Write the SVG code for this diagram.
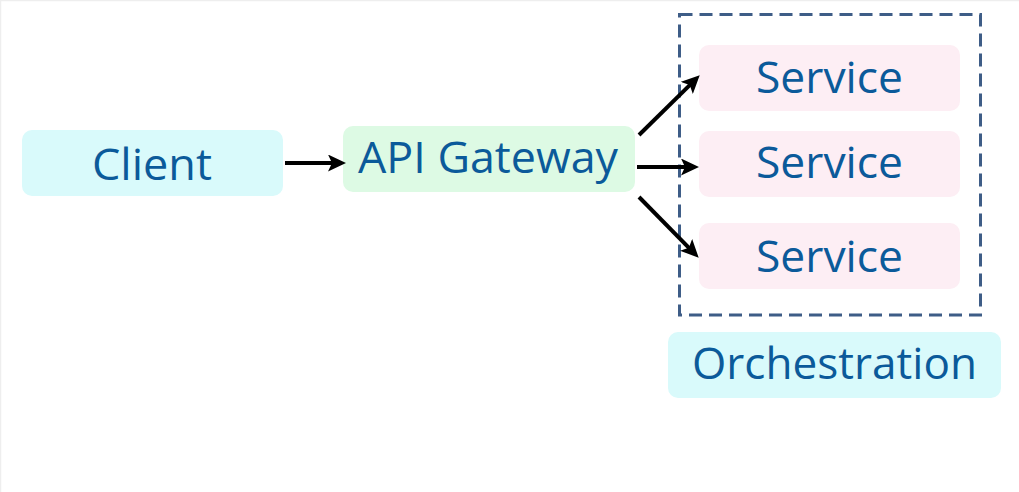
<svg xmlns="http://www.w3.org/2000/svg" width="1019" height="492" viewBox="0 0 1019 492">
  <style>
    .box { stroke: none; }
    .cyan { fill: #d9fafb; }
    .green { fill: #ddfae4; }
    .pink { fill: #fdeef4; }
    .label { font-family: "Open Sans", "DejaVu Sans", sans-serif; font-size: 43px; fill: #0b5a9a; }
    .edge { stroke: #000; stroke-width: 4; fill: none; marker-end: url(#arrow); }
    .frame { fill: none; stroke: #3e5d87; stroke-width: 3; stroke-dasharray: 13 7; }
  </style>
  <defs>
    <marker id="arrow" viewBox="0 0 18 17" refX="9" refY="8.5" markerWidth="18" markerHeight="17" markerUnits="userSpaceOnUse" orient="auto">
      <path d="M0,0 L18,8.5 L0,17 L4,8.5 z" fill="#000"/>
    </marker>
  </defs>

  <rect x="0" y="0" width="1019" height="492" fill="#fff"/>
  <path d="M0.5,492 V0.5 H1019" fill="none" stroke="#eeeeee" stroke-width="1.5"/>

  <!-- orchestration boundary -->
  <rect class="frame" x="679.5" y="14.5" width="301" height="300.5"/>

  <g id="client">
    <rect class="box cyan" x="22" y="130" width="261" height="66" rx="10"/>
    <text class="label" x="92" y="180" textLength="120" lengthAdjust="spacingAndGlyphs">Client</text>
  </g>

  <g id="api-gateway">
    <rect class="box green" x="343" y="126" width="292" height="66" rx="10"/>
    <text class="label" x="358" y="173" textLength="260" lengthAdjust="spacingAndGlyphs">API Gateway</text>
  </g>

  <g id="service-1">
    <rect class="box pink" x="699" y="45" width="261" height="66" rx="10"/>
    <text class="label" x="756" y="93" textLength="147" lengthAdjust="spacingAndGlyphs">Service</text>
  </g>

  <g id="service-2">
    <rect class="box pink" x="699" y="131" width="261" height="66" rx="10"/>
    <text class="label" x="756" y="178" textLength="147" lengthAdjust="spacingAndGlyphs">Service</text>
  </g>

  <g id="service-3">
    <rect class="box pink" x="699" y="223" width="261" height="66" rx="10"/>
    <text class="label" x="756" y="272" textLength="147" lengthAdjust="spacingAndGlyphs">Service</text>
  </g>

  <g id="orchestration">
    <rect class="box cyan" x="668" y="332" width="333" height="66" rx="10"/>
    <text class="label" x="692" y="379" textLength="285" lengthAdjust="spacingAndGlyphs">Orchestration</text>
  </g>

  <g id="connectors">
    <line class="edge" x1="285" y1="163" x2="337" y2="163"/>
    <line class="edge" x1="639" y1="135" x2="693.3" y2="81.6"/>
    <line class="edge" x1="637" y1="167" x2="690" y2="167"/>
    <line class="edge" x1="639" y1="197" x2="692.4" y2="251.3"/>
  </g>
</svg>
